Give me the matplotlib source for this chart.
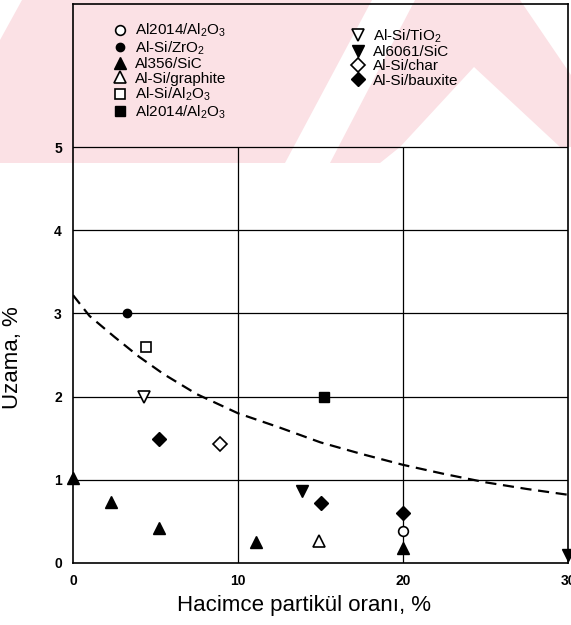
import matplotlib
matplotlib.use('Agg')
import matplotlib.pyplot as plt
from matplotlib.patches import Polygon

plt.rcParams['font.family'] = ['Liberation Sans', 'DejaVu Sans']
plt.rcParams['mathtext.fontset'] = 'custom'
plt.rcParams['mathtext.rm'] = 'Liberation Sans'
plt.rcParams['mathtext.it'] = 'Liberation Sans'

# data
al2014_o_x = [20]
al2014_o_y = [0.38]
alsi_zro2_x = [3.3]
alsi_zro2_y = [3.0]
al356_sic_x = [0, 2.3, 5.2, 11.1, 20]
al356_sic_y = [1.02, 0.73, 0.42, 0.25, 0.18]
alsi_graphite_x = [14.9]
alsi_graphite_y = [0.26]
alsi_al2o3_x = [4.4]
alsi_al2o3_y = [2.6]
al2014_s_x = [15.2]
al2014_s_y = [2.0]
alsi_tio2_x = [4.3]
alsi_tio2_y = [2.0]
al6061_sic_x = [13.9, 30]
al6061_sic_y = [0.86, 0.1]
alsi_char_x = [8.9]
alsi_char_y = [1.43]
alsi_bauxite_x = [5.2, 15.0, 20]
alsi_bauxite_y = [1.49, 0.72, 0.6]

# dashed trend line
curve_x = [0, 1, 2.5, 4, 5.5, 7.5, 10, 12.5, 15, 17.5, 20, 22.5, 25, 27.5, 30]
curve_y = [3.22, 2.97, 2.72, 2.48, 2.27, 2.03, 1.80, 1.63, 1.45, 1.31, 1.18, 1.07, 0.97, 0.89, 0.82]

x_ticks = [0, 10, 20, 30]
y_ticks = [0, 1, 2, 3, 4, 5]

W, H = 571, 625
fig = plt.figure(figsize=(W / 100, H / 100), dpi=100)
ax = fig.add_axes([73 / W, 1 - 563 / H, 495 / W, 559 / H])
ax.patch.set_facecolor('none')

# pale pink watermark band at the top of the scan
def px(pts):
    return [(x / W, 1 - y / H) for x, y in pts]

pink = '#fbe1e5'
fig.add_artist(Polygon(px([(0, 0), (W, 0), (W, 163), (0, 163)]), closed=True,
                       facecolor=pink, edgecolor='none', transform=fig.transFigure, zorder=-2))
for pts in [[(0, 0), (22, 0), (0, 40)],
            [(285, 163), (330, 163), (415, 0), (372, 0)],
            [(474, 67), (400, 147), (380, 163), (W, 163), (W, 147), (560, 147)],
            [(520, 0), (W, 0), (W, 75)]]:
    fig.add_artist(Polygon(px(pts), closed=True, facecolor='white', edgecolor='none',
                           transform=fig.transFigure, zorder=-1))

ax.set_xlim(0, 30)
ax.set_ylim(0, 6.72)

# grid: horizontal lines across, vertical ones only up to 5
for yv in y_ticks[1:]:
    ax.axhline(yv, color='black', lw=0.9, zorder=1)
ax.vlines(x_ticks[1:3], 0, 5, color='black', lw=0.9, zorder=1)

ax.plot(curve_x, curve_y, color='black', lw=1.6, dashes=(5, 3), zorder=2)

mk = dict(linestyle='none', markeredgecolor='black', clip_on=False, zorder=3)
ax.plot(al2014_o_x, al2014_o_y, marker='o', ms=7, mfc='white', mew=1.2,
        label='Al2014/Al$_2$O$_3$', **mk)
ax.plot(alsi_zro2_x, alsi_zro2_y, marker='o', ms=6, mfc='black',
        label='Al-Si/ZrO$_2$', **mk)
ax.plot(al356_sic_x, al356_sic_y, marker='^', ms=9, mfc='black',
        label='Al356/SiC', **mk)
ax.plot(alsi_graphite_x, alsi_graphite_y, marker='^', ms=9, mfc='white', mew=1.2,
        label='Al-Si/graphite', **mk)
ax.plot(alsi_al2o3_x, alsi_al2o3_y, marker='s', ms=7, mfc='white', mew=1.2,
        label='Al-Si/Al$_2$O$_3$', **mk)
ax.plot(al2014_s_x, al2014_s_y, marker='s', ms=7, mfc='black',
        label='Al2014/Al$_2$O$_3$', **mk)
ax.plot(alsi_tio2_x, alsi_tio2_y, marker='v', ms=9, mfc='white', mew=1.2,
        label='Al-Si/TiO$_2$', **mk)
ax.plot(al6061_sic_x, al6061_sic_y, marker='v', ms=9, mfc='black',
        label='Al6061/SiC', **mk)
ax.plot(alsi_char_x, alsi_char_y, marker='D', ms=7.5, mfc='white', mew=1.2,
        label='Al-Si/char', **mk)
ax.plot(alsi_bauxite_x, alsi_bauxite_y, marker='D', ms=7.5, mfc='black',
        label='Al-Si/bauxite', **mk)

handles, labels = ax.get_legend_handles_labels()
leg_kw = dict(frameon=False, fontsize=11, handlelength=0.9, handletextpad=0.55,
              labelspacing=0.02, borderpad=0, borderaxespad=0, numpoints=1,
              loc='upper left')
leg1 = ax.legend(handles[:6], labels[:6], bbox_to_anchor=(0.081, 0.968), **leg_kw)
ax.add_artist(leg1)
ax.legend(handles[6:], labels[6:], bbox_to_anchor=(0.562, 0.958), **leg_kw)

ax.set_xticks(x_ticks)
ax.set_yticks(y_ticks)
ax.tick_params(length=0, pad=8, labelsize=10)
for t in ax.get_xticklabels() + ax.get_yticklabels():
    t.set_fontweight('bold')

for s in ax.spines.values():
    s.set_linewidth(1.2)

ax.set_xlabel('Hacimce partikül oranı, %', fontsize=16)
ax.set_ylabel('Uzama, %', fontsize=16)
ax.xaxis.set_label_coords(0.467, -0.058)
ax.yaxis.set_label_coords(-0.1, 0.367)

fig.savefig('out.png', dpi=100)
